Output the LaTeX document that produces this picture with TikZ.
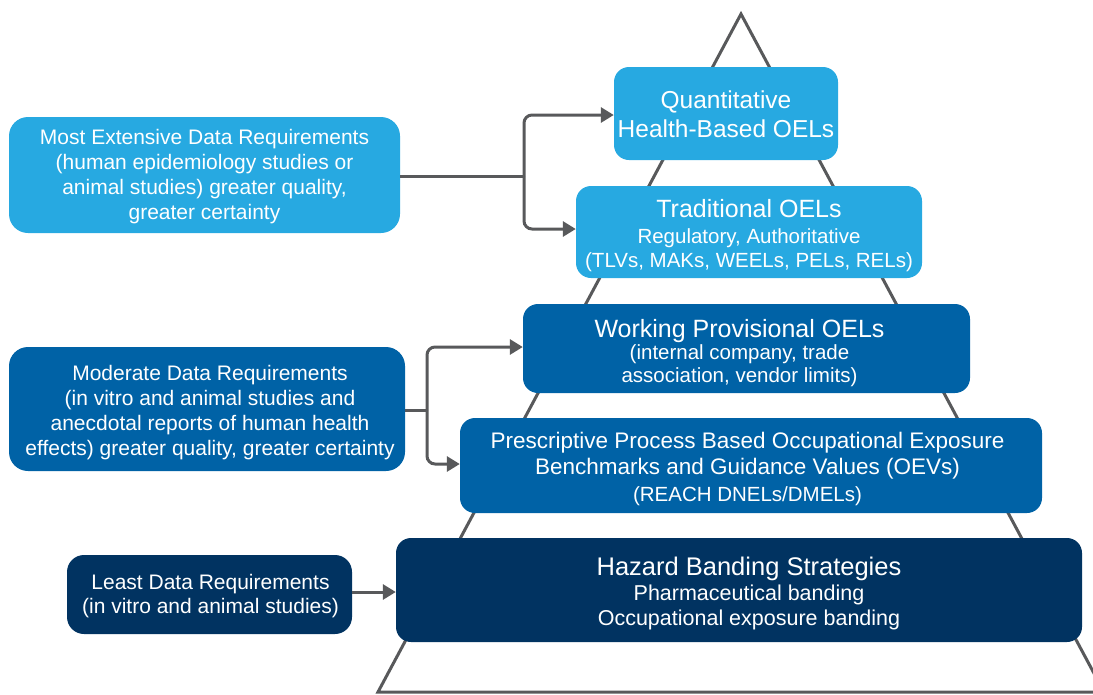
\documentclass[tikz,border=0pt]{standalone}
\usepackage{fontspec}
\setmainfont{Liberation Sans}
\usetikzlibrary{arrows.meta}
\definecolor{lblue}{HTML}{27A9E1}
\definecolor{mblue}{HTML}{0062A6}
\definecolor{nblue}{HTML}{013361}
\definecolor{lgrey}{HTML}{58595B}
\newcommand{\myttl}{\fontsize{25}{26}\selectfont}
\newcommand{\mysb}{\fontsize{20.5}{24}\selectfont}
\tikzset{
  box/.style={rounded corners=15pt, inner sep=0pt},
  lightbox/.style={box, fill=lblue},
  midbox/.style={box, fill=mblue},
  navybox/.style={box, fill=nblue},
  sidebox/.style={rounded corners=19pt},
  boxtext/.style={text=white, align=center, inner sep=0pt},
  sidetext/.style={boxtext, font=\fontsize{21}{25}\selectfont},
  conn/.style={draw=lgrey, line width=3pt, rounded corners=8pt},
  arr/.style={conn, -{Triangle[length=13pt,width=15pt]}},
}
\begin{document}
\begin{tikzpicture}[x=1pt,y=-1pt]
\useasboundingbox (0,0) rectangle (1093,694);
\begin{scope}
\clip (0,0) rectangle (1093,694);
\draw[lgrey, line width=3pt, line join=miter] (378,692) -- (741,14) -- (1104,692) -- cycle;
\end{scope}
% pyramid boxes
\node[lightbox, minimum width=224pt, minimum height=93pt] (Q) at (726,113.5) {};
\node[boxtext, font=\fontsize{24.5}{29}\selectfont] (Qt) at ([yshift=-1pt]Q.center)
  {Quantitative\\Health-Based OELs};
\node[lightbox, minimum width=346pt, minimum height=92pt] (T) at (749,232) {};
\node[boxtext, font=\mysb] (Tt) at ([yshift=-3.5pt]T.center)
  {\myttl Traditional OELs\\[2pt]Regulatory, Authoritative\\(TLVs, MAKs, WEELs, PELs, RELs)};
\node[midbox, minimum width=447pt, minimum height=89pt] (W) at (746.5,348.5) {};
\node[boxtext, font=\fontsize{20.5}{23}\selectfont] (Wt) at ([xshift=-7pt,yshift=-4.5pt]W.center)
  {\myttl Working Provisional OELs\\[-1pt](internal company, trade\\association, vendor limits)};
\node[midbox, minimum width=582pt, minimum height=95pt] (P) at (751,465.5) {};
\node[boxtext, font=\fontsize{22.5}{26}\selectfont] (Pt) at ([xshift=-3.5pt,yshift=-3pt]P.center)
  {Prescriptive Process Based Occupational Exposure\\Benchmarks and Guidance Values (OEVs)\\[1pt]\mysb (REACH DNELs/DMELs)};
\node[navybox, minimum width=686pt, minimum height=104pt] (H) at (739,590) {};
\node[boxtext, font=\fontsize{21.5}{25}\selectfont] (Ht) at ([xshift=10pt,yshift=-3.5pt]H.center)
  {\fontsize{25.5}{25}\selectfont Hazard Banding Strategies\\Pharmaceutical banding\\Occupational exposure banding};
% left boxes
\node[lightbox, sidebox, minimum width=391pt, minimum height=116pt] (A) at (204.5,175) {};
\node[sidetext] (At) at ([yshift=-2pt]A.center)
  {Most Extensive Data Requirements\\(human epidemiology studies or\\animal studies) greater quality,\\greater certainty};
\node[midbox, sidebox, minimum width=396pt, minimum height=124pt] (B) at (207,409) {};
\node[sidetext] (Bt) at ([xshift=3pt,yshift=-3.5pt]B.center)
  {Moderate Data Requirements\\(in vitro and animal studies and\\anecdotal reports of human health\\effects) greater quality, greater certainty};
\node[navybox, sidebox, minimum width=285pt, minimum height=79pt, rounded corners=17pt] (C) at (209.5,594.5) {};
\node[sidetext, font=\fontsize{21}{24}\selectfont] (Ct) at ([xshift=1pt,yshift=-1.5pt]C.center)
  {Least Data Requirements\\(in vitro and animal studies)};
% connectors
\coordinate (j1) at (524,176);
\coordinate (j2) at (427,410);
\draw[conn] (A.east |- j1) -- (j1);
\draw[arr] (j1) |- ([yshift=-1.5pt]Q.west);
\draw[arr] (j1) |- ([yshift=3pt]T.west);
\draw[conn] (B.east |- j2) -- (j2);
\draw[arr] (j2) |- ([yshift=1.5pt]W.west);
\draw[arr] (j2) |- ([yshift=1.5pt]P.west);
\draw[arr] (C.east |- 0,592) -- (H.west |- 0,592);
\end{tikzpicture}
\end{document}
